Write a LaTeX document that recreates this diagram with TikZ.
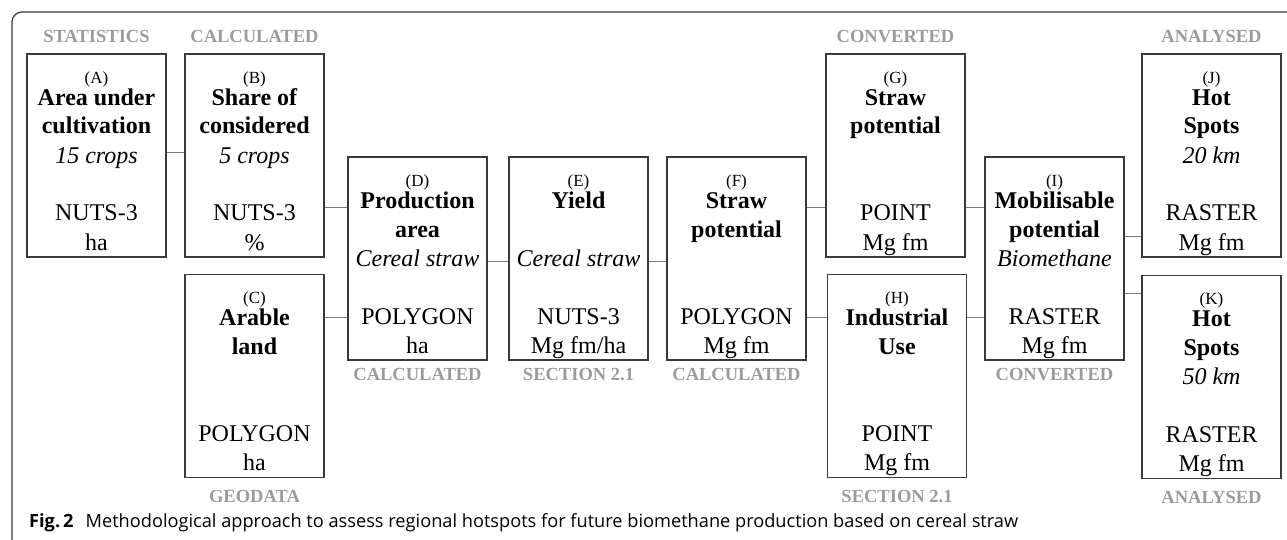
\documentclass[tikz,border=0pt]{standalone}
\usepackage{fontspec}
\setmainfont{Liberation Serif}
\newfontfamily\capfont{Open Sans}
\usetikzlibrary{positioning}

\definecolor{boxline}{HTML}{3A3A3A}
\definecolor{tagtext}{HTML}{9B9B9B}
\definecolor{linkline}{HTML}{7A7A7A}

% rows: letter, title (two lines), italic note, blank, geometry, unit
\newcommand{\stagetext}[6]{\rule{0pt}{27.5pt}{\fontsize{17}{20}\selectfont(#1)}\\[-7pt]
	\textbf{#2}\strut\\ \textbf{#3}\strut\\ \textit{#4}\strut\\ \strut\\ #5\strut\\ #6\rule[-5.5pt]{0pt}{5.5pt}}

\tikzset{
	stage/.style={draw=boxline, line width=1.5pt, inner sep=0pt, minimum width=139pt, minimum height=203pt, align=center, font=\fontsize{24}{29}\selectfont},
	tag/.style={inner sep=0pt, text=tagtext, font=\fontsize{18.5}{22}\selectfont\bfseries},
	link/.style={draw=linkline, line width=0.9pt},
}

\begin{document}
\begin{tikzpicture}[x=1pt,y=-1pt]

	\useasboundingbox (0,0) rectangle (1287,540);
	\draw[boxline, line width=1.2pt, rounded corners=10pt] (1287,12) -- (12,12) -- (12,540);

	\node[stage] (A) at (96.5,155.5) {\stagetext{A}{Area under}{cultivation}{15 crops}{NUTS-3}{ha}};
	\node[stage] (B) at (254.5,155.5) {\stagetext{B}{Share of}{considered}{5 crops}{NUTS-3}{\%}};
	\node[stage] (C) at (254.5,376) {\stagetext{C}{Arable}{land}{}{POLYGON}{ha}};
	\node[stage] (D) at (417.5,258.5) {\stagetext{D}{Production}{area}{Cereal straw}{POLYGON}{ha}};
	\node[stage] (E) at (578.5,258.5) {\stagetext{E}{Yield}{}{Cereal straw}{NUTS-3}{Mg fm/ha}};
	\node[stage] (F) at (736.5,258.5) {\stagetext{F}{Straw}{potential}{}{POLYGON}{Mg fm}};
	\node[stage] (G) at (895.5,155.5) {\stagetext{G}{Straw}{potential}{}{POINT}{Mg fm}};
	\node[stage] (H) at (897,376) {\stagetext{H}{Industrial}{Use}{}{POINT}{Mg fm}};
	\node[stage] (I) at (1054.5,258.5) {\stagetext{I}{Mobilisable}{potential}{Biomethane}{RASTER}{Mg fm}};
	\node[stage] (J) at (1211.5,155.5) {\stagetext{J}{Hot}{Spots}{20 km}{RASTER}{Mg fm}};
	\node[stage] (K) at (1211.5,377) {\stagetext{K}{Hot}{Spots}{50 km}{RASTER}{Mg fm}};

	% data sources
	\node[tag, above=10.5pt of A] (tA) {STATISTICS};
	\node[tag, above=10.5pt of B] (tB) {CALCULATED};
	\node[tag, below=12pt of C] (tC) {GEODATA};
	\node[tag, below=7pt of D] (tD) {CALCULATED};
	\node[tag, below=7pt of E] (tE) {SECTION 2.1};
	\node[tag, below=7pt of F] (tF) {CALCULATED};
	\node[tag, above=10.5pt of G] (tG) {CONVERTED};
	\node[tag, below=12pt of H] (tH) {SECTION 2.1};
	\node[tag, below=7pt of I] (tI) {CONVERTED};
	\node[tag, above=10.5pt of J] (tJ) {ANALYSED};
	\node[tag, below=12pt of K] (tK) {ANALYSED};

	\draw[link] ([yshift=3.5pt]A.east) -- ([yshift=3.5pt]B.west);
	\draw[link] ([yshift=-51.5pt]B.east) -- ([yshift=51.5pt]D.west);
	\draw[link] ([yshift=59pt]C.east) -- ([yshift=-58.5pt]D.west);
	\draw[link] ([yshift=-2.5pt]D.east) -- ([yshift=-2.5pt]E.west);
	\draw[link] ([yshift=-2.5pt]E.east) -- ([yshift=-2.5pt]F.west);
	\draw[link] ([yshift=51.5pt]F.east) -- ([yshift=-51.5pt]G.west);
	\draw[link] ([yshift=-58.5pt]F.east) -- ([yshift=59pt]H.west);
	\draw[link] ([yshift=-51.5pt]G.east) -- ([yshift=51.5pt]I.west);
	\draw[link] ([yshift=59pt]H.east) -- ([yshift=-58.5pt]I.west);
	\draw[link] ([yshift=22.5pt]I.east) -- ([yshift=-80.5pt]J.west);
	\draw[link] ([yshift=-34.5pt]I.east) -- ([yshift=84pt]K.west);

	\node[anchor=base west, inner sep=0pt, font=\capfont\fontsize{18.2}{22}\selectfont] (cap) at (29,527)
		{\textbf{Fig.\,2}\hspace{12pt}Methodological approach to assess regional hotspots for future biomethane production based on cereal straw};

\end{tikzpicture}
\end{document}
